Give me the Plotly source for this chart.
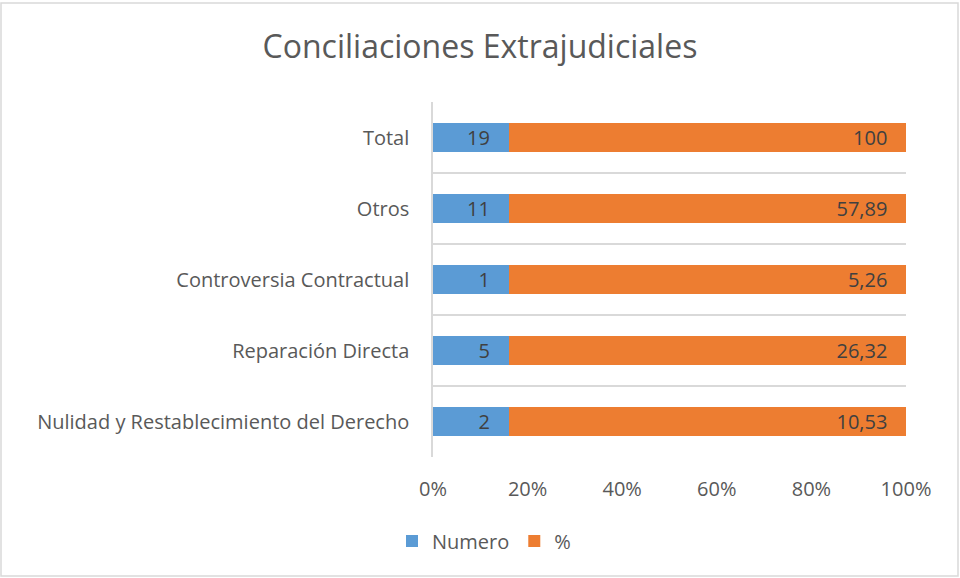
import plotly.graph_objects as go

categories = ["Total", "Otros", "Controversia Contractual", "Reparación Directa",
              "Nulidad y Restablecimiento del Derecho"]
numero = [19, 11, 1, 5, 2]
porcentaje = [100, 57.89, 5.26, 26.32, 10.53]
numero_labels = ["19", "11", "1", "5", "2"]
porc_labels = ["100", "57,89", "5,26", "26,32", "10,53"]
tick_vals = [0, 20, 40, 60, 80, 100]
tick_text = ["0%", "20%", "40%", "60%", "80%", "100%"]

FONT = "Open Sans"
TXT = "#595959"
PAD = "\u00a0\u00a0\u00a0"

L, R, T, B = 433, 54, 102, 121
W, H = 960, 578
PW, PH = W - L - R, H - T - B

fig = go.Figure()
fig.add_trace(go.Bar(
    y=categories, x=numero, orientation="h", name="Numero",
    marker=dict(color="#5B9BD5", line=dict(width=0)),
    text=[t + PAD for t in numero_labels], textposition="inside", insidetextanchor="end",
    textfont=dict(color="#404040", size=20, family=FONT),
))
fig.add_trace(go.Bar(
    y=categories, x=porcentaje, orientation="h", name="%",
    marker=dict(color="#ED7D31", line=dict(width=0)),
    text=[t + PAD for t in porc_labels], textposition="inside", insidetextanchor="end",
    textfont=dict(color="#404040", size=20, family=FONT),
))

fig.update_layout(
    width=W, height=H,
    barmode="stack", barnorm="percent", bargap=0.6,
    paper_bgcolor="white", plot_bgcolor="white",
    margin=dict(l=L, r=R, t=T, b=B),
    font=dict(family=FONT, color=TXT, size=20),
    title=dict(text="Conciliaciones Extrajudiciales", x=0.5, xanchor="center",
               y=1 - 47 / H, yanchor="middle",
               font=dict(size=32, color=TXT, family=FONT)),
    xaxis=dict(range=[0, 100], tickvals=tick_vals, ticktext=tick_text,
               showgrid=False, zeroline=False, showline=False,
               tickfont=dict(size=20, color=TXT), ticks="",
               ticklabelstandoff=18),
    yaxis=dict(type="category", autorange="reversed", tickson="boundaries",
               showgrid=True, gridcolor="#D9D9D9", gridwidth=1.5,
               showline=True, linecolor="#D9D9D9", linewidth=1.5,
               ticks="", tickfont=dict(size=20, color=TXT), ticklabelstandoff=18),
    legend=dict(orientation="h", x=(484 - L) / PW, xanchor="center",
                y=1 - (541 - T) / PH, yanchor="middle",
                font=dict(size=20, color=TXT), traceorder="normal",
                itemwidth=30, itemsizing="constant"),
)
fig.update_traces(textangle=0, constraintext="none")
fig.add_shape(type="rect", xref="paper", yref="paper",
              x0=(1 - L) / PW, x1=(958 - L) / PW,
              y0=1 - (576 - T) / PH, y1=1 - (3 - T) / PH,
              line=dict(color="#D9D9D9", width=1.5))
fig.write_html("out.html", config={"displayModeBar": False},
               post_script="document.body.style.margin='0';")
